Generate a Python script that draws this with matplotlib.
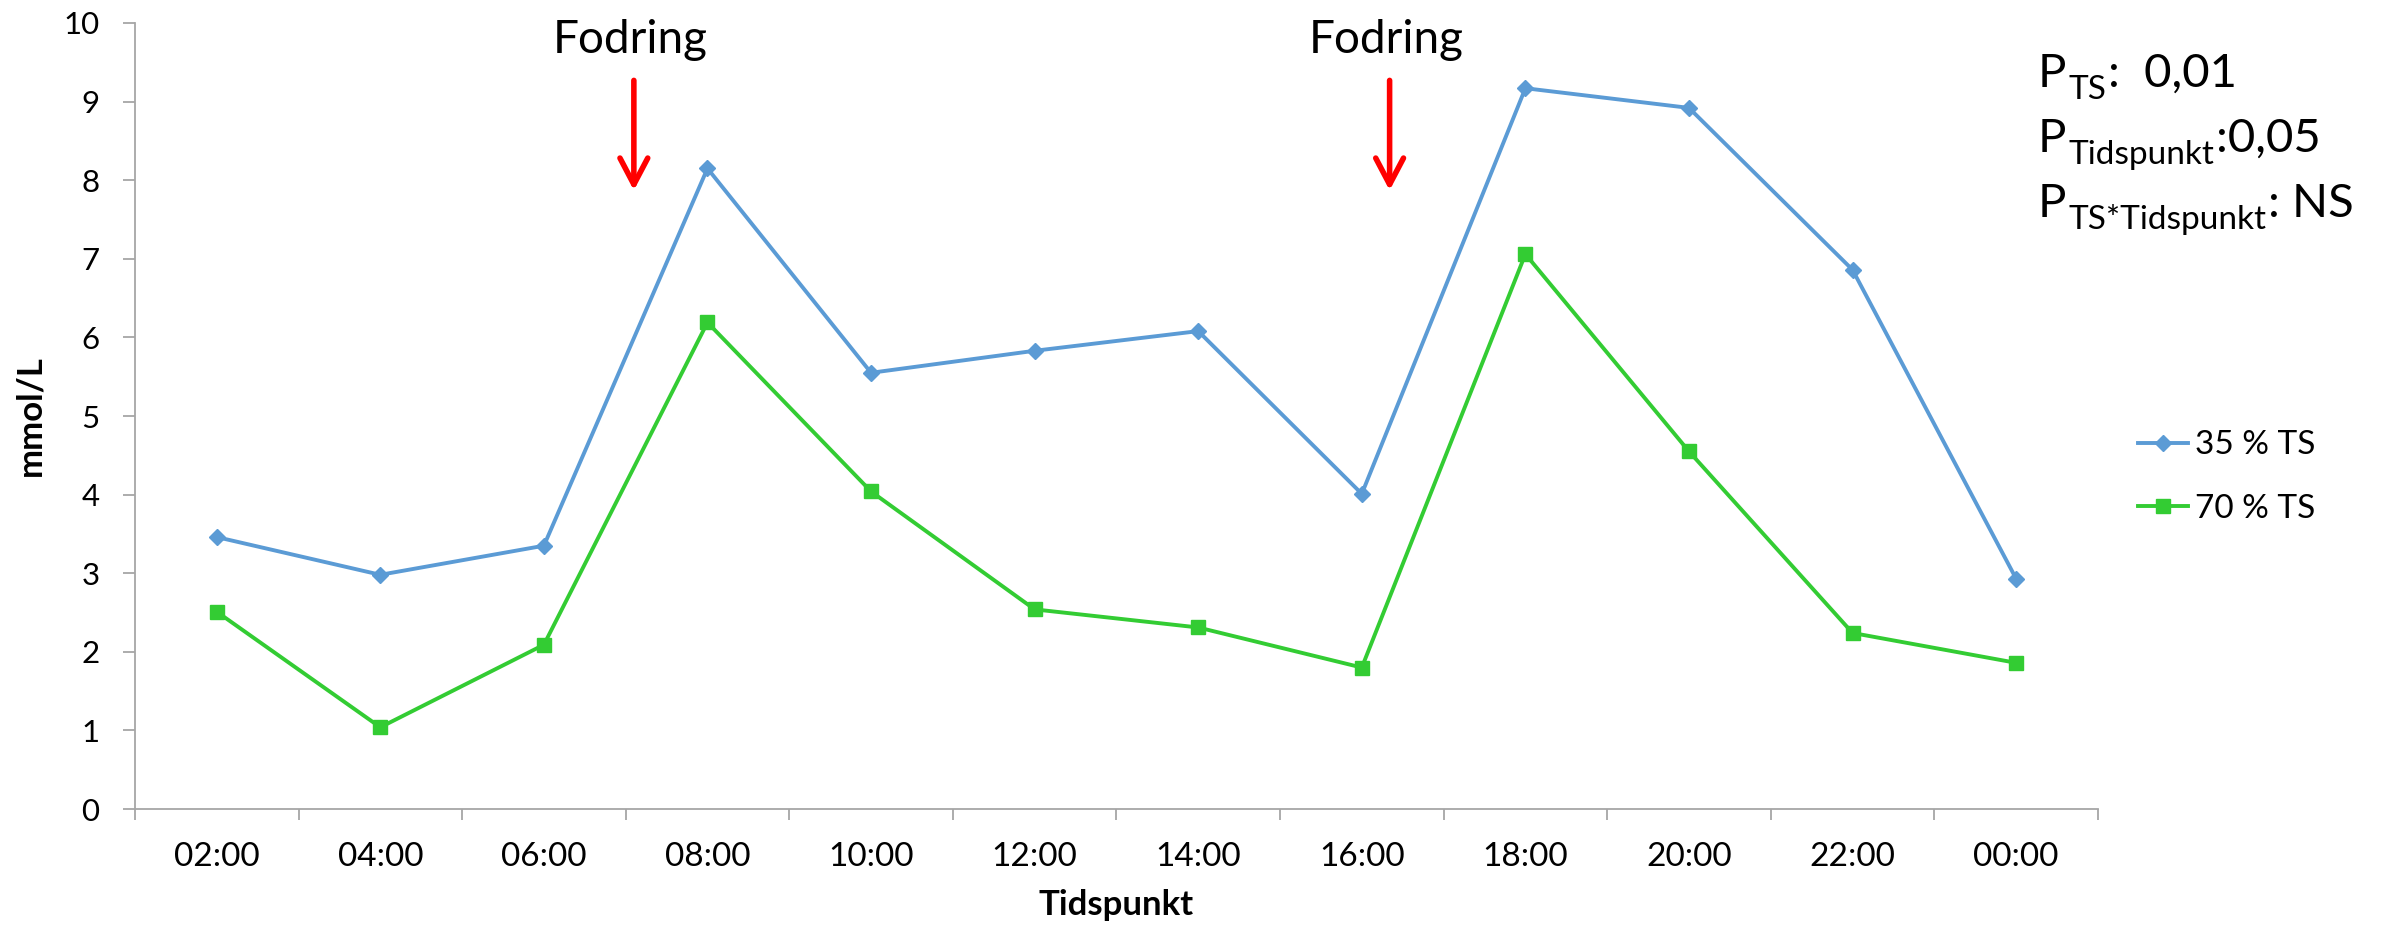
import matplotlib
matplotlib.use('Agg')
import matplotlib.pyplot as plt
from matplotlib.ticker import FixedLocator, NullFormatter

plt.rcParams['font.family'] = ['Lato', 'DejaVu Sans']

# measured values (mmol/L) at each time point
times = ['02:00', '04:00', '06:00', '08:00', '10:00', '12:00',
         '14:00', '16:00', '18:00', '20:00', '22:00', '00:00']
ts35 = [3.46, 2.98, 3.35, 8.15, 5.55, 5.83, 6.08, 4.01, 9.17, 8.92, 6.86, 2.93]
ts70 = [2.51, 1.04, 2.09, 6.19, 4.04, 2.54, 2.31, 1.80, 7.06, 4.55, 2.24, 1.86]

# feeding times (position between categories) and arrow span on the y scale
feed_x = [2.55, 7.17]
arrow_top, arrow_tip = 9.27, 7.87
label_y = 9.62

# p-values: (subscript, value text)
p_subs = ['TS', 'Tidspunkt', 'TS*Tidspunkt']
p_vals = [':  0,01', ':0,05', ': NS']

blue = '#5B9BD5'
green = '#33CC33'
grey = '#A6A6A6'

fig = plt.figure(figsize=(23.84, 9.31), dpi=100)
ax = fig.add_axes([0.0566, 0.1310, 0.8234, 0.8443])

x = range(len(times))
ax.plot(x, ts35, color=blue, lw=2.8, marker='D', ms=8, label='35 % TS')
ax.plot(x, ts70, color=green, lw=2.8, marker='s', ms=10, label='70 % TS')

ax.set_xlim(-0.5, len(times) - 0.5)
ax.set_ylim(0, 10)
ax.set_yticks(range(0, 11))

# category boundaries get the tick marks, labels sit in between
ax.xaxis.set_major_locator(FixedLocator([i - 0.5 for i in range(len(times) + 1)]))
ax.xaxis.set_major_formatter(NullFormatter())
ax.xaxis.set_minor_locator(FixedLocator(list(x)))
ax.set_xticklabels(times, minor=True)
ax.tick_params(axis='x', which='major', length=8, width=1.3, color=grey, direction='out')
ax.tick_params(axis='x', which='minor', length=0, pad=24, labelsize=24)
ax.tick_params(axis='y', length=8.6, width=1.3, color=grey, pad=17, labelsize=22.5)

for side in ['top', 'right']:
    ax.spines[side].set_visible(False)
for side in ['left', 'bottom']:
    ax.spines[side].set_color(grey)
    ax.spines[side].set_linewidth(1.3)

ax.set_xlabel('Tidspunkt', fontsize=25, fontweight='bold', labelpad=12)
ax.set_ylabel('mmol/L', fontsize=25, fontweight='bold', labelpad=12)

for fx in feed_x:
    ax.annotate('', xy=(fx, arrow_tip), xytext=(fx, arrow_top),
                arrowprops=dict(arrowstyle='->,head_length=0.95,head_width=0.5',
                                color='red', lw=4, mutation_scale=20,
                                shrinkA=0, shrinkB=0, capstyle='round'))
    ax.text(fx - 0.02, label_y, 'Fodring', fontsize=33, ha='center', va='baseline')

fig.legend(loc='center left', bbox_to_anchor=(0.8968, 0.4876), frameon=False,
           fontsize=24, handlelength=1.5, handletextpad=0.2, labelspacing=1.0,
           borderpad=0, borderaxespad=0)

# P lines: big "P", smaller lowered subscript, then the value, laid out piece by piece
renderer = fig.canvas.get_renderer()
x0 = 2038
baselines = [87, 152, 217]
for sub, val, base in zip(p_subs, p_vals, baselines):
    cx = x0
    for s, size, dy in [('P', 34, 0), (sub, 24, -12), (val, 34, 0)]:
        t = fig.text(cx / 2384, 1 - (base - dy) / 931, s, fontsize=size, va='baseline')
        cx = t.get_window_extent(renderer).x1 + 2

fig.savefig('out.png', dpi=100)
